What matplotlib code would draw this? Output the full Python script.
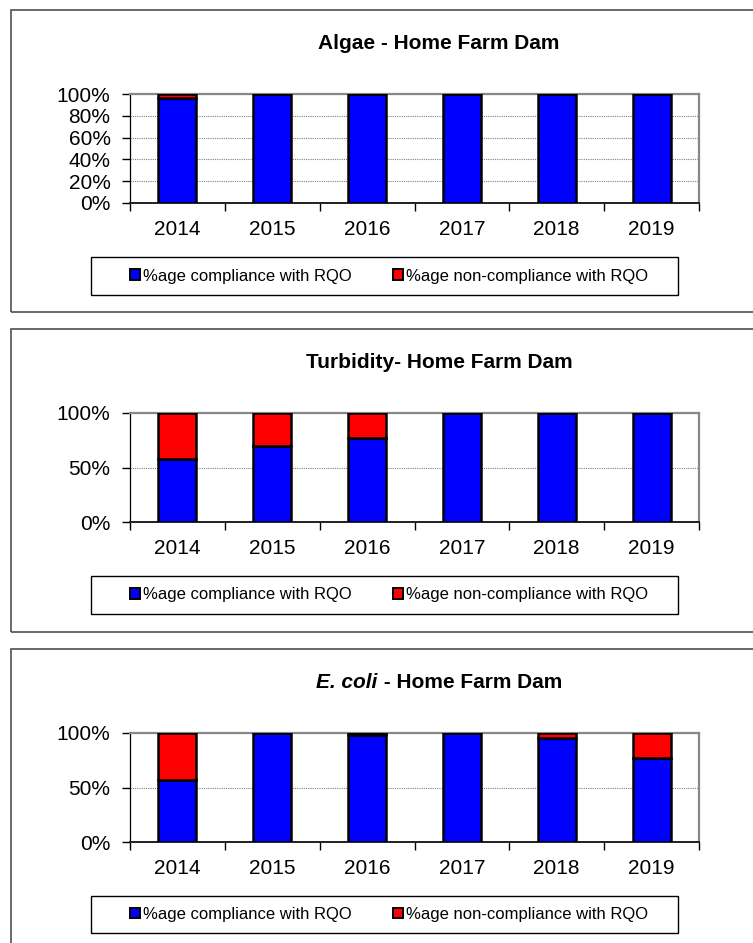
import matplotlib
matplotlib.use('Agg')
import matplotlib.pyplot as plt
from matplotlib.patches import Rectangle, Patch

# ========== data ==========
years = ['2014', '2015', '2016', '2017', '2018', '2019']

algae_ok = [96, 100, 100, 100, 100, 100]
algae_bad = [4, 0, 0, 0, 0, 0]
turb_ok = [58, 70, 77, 100, 100, 100]
turb_bad = [42, 30, 23, 0, 0, 0]
ecoli_ok = [57, 100, 98, 100, 95, 77]
ecoli_bad = [43, 0, 2, 0, 5, 23]

label_ok = '%age compliance with RQO'
label_bad = '%age non-compliance with RQO'

BLUE = '#0000FF'
RED = '#FF0000'

plt.rcParams['font.family'] = ['Liberation Sans', 'DejaVu Sans']

W, H = 753, 943
fig = plt.figure(figsize=(W / 100, H / 100), dpi=100)
fig.patch.set_facecolor('white')


def fx(x):
    return x / W


def fy(y):
    return 1 - y / H


# (title, ok, bad, yticks, box top/bottom, axes top/bottom, legend top/bottom, title baseline)
panels = [
    ('Algae - Home Farm Dam', algae_ok, algae_bad, [0, 20, 40, 60, 80, 100],
     10, 312, 94, 203, 257, 295, 49),
    ('Turbidity- Home Farm Dam', turb_ok, turb_bad, [0, 50, 100],
     329, 632, 413, 522, 576, 614, 368),
    (None, ecoli_ok, ecoli_bad, [0, 50, 100],
     649, 975, 733, 842, 896, 933, 688),
]

renderer = fig.canvas.get_renderer()

for title, ok, bad, yt, bt, bb, at, ab, lt, lb, ty in panels:
    # outer chart frame (runs past the right edge of the picture)
    fig.add_artist(Rectangle((fx(11), fy(bb)), fx(950) - fx(11), (bb - bt) / H,
                             transform=fig.transFigure, fill=False,
                             edgecolor='#505050', linewidth=1.2, clip_on=False))

    ax = fig.add_axes([fx(130), fy(ab), fx(699) - fx(130), (ab - at) / H])
    x = range(len(years))
    ax.bar(x, ok, width=0.4, color=BLUE, edgecolor='black', linewidth=1.8, zorder=3)
    ax.bar(x, bad, width=0.4, bottom=ok, color=RED, edgecolor='black', linewidth=1.8, zorder=3)

    ax.set_xlim(-0.5, len(years) - 0.5)
    ax.set_ylim(0, 100)
    ax.set_yticks(yt)
    ax.set_yticklabels([f'{v}%' for v in yt], fontsize=15)
    ax.set_xticks(list(x))
    ax.set_xticklabels(years, fontsize=15)
    ax.set_xticks([i - 0.5 for i in range(len(years) + 1)], minor=True)
    ax.tick_params(axis='x', which='major', length=0, pad=12)
    ax.tick_params(axis='x', which='minor', length=6, width=1, direction='out')
    ax.tick_params(axis='y', length=6, width=1, direction='out', pad=8)

    ax.grid(axis='y', color='#808080', linestyle=(0, (1, 1)), linewidth=0.8, zorder=0)
    ax.spines['left'].set_color('black')
    ax.spines['left'].set_linewidth(0.9)
    ax.spines['bottom'].set_color('#202020')
    ax.spines['bottom'].set_linewidth(1.4)
    for s in ['top', 'right']:
        ax.spines[s].set_color('#888888')
        ax.spines[s].set_linewidth(1.6)

    # title
    if title is not None:
        fig.text(fx(439), fy(ty), title, ha='center', va='baseline',
                 fontsize=15, fontweight='bold')
    else:
        t1 = fig.text(0, fy(ty), 'E. coli', ha='left', va='baseline',
                      fontsize=15, fontweight='bold', fontstyle='italic')
        t2 = fig.text(0, fy(ty), ' - Home Farm Dam', ha='left', va='baseline',
                      fontsize=15, fontweight='bold')
        w1 = t1.get_window_extent(renderer).width
        w2 = t2.get_window_extent(renderer).width
        start = 439 - (w1 + w2) / 2
        t1.set_x(fx(start))
        t2.set_x(fx(start + w1))

    # legend box + entries
    fig.add_artist(Rectangle((fx(91), fy(lb)), fx(678) - fx(91), (lb - lt) / H,
                             transform=fig.transFigure, fill=False,
                             edgecolor='black', linewidth=1.0, clip_on=False))
    handles = [Patch(facecolor=BLUE, edgecolor='black', linewidth=1.4),
               Patch(facecolor=RED, edgecolor='black', linewidth=1.4)]
    fig.legend(handles, [label_ok, label_bad], loc='center',
               bbox_to_anchor=(fx(389), fy((lt + lb) / 2)), ncol=2, frameon=False,
               fontsize=12, handlelength=0.6, handleheight=0.6,
               handletextpad=0.15, columnspacing=2.5, borderpad=0, borderaxespad=0)

fig.savefig('out.png', dpi=100, facecolor='white')
